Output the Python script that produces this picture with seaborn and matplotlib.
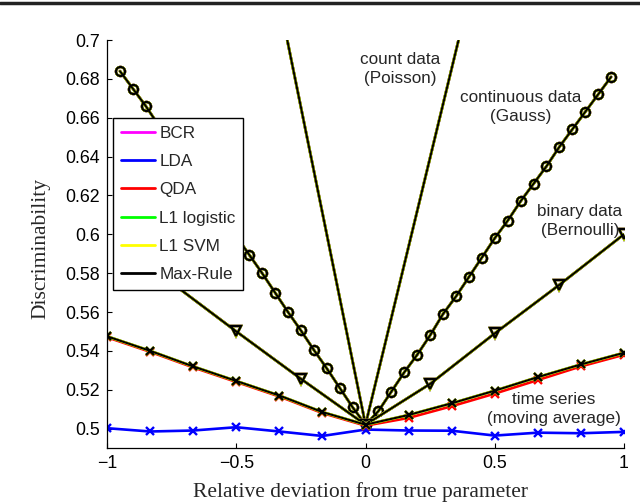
import matplotlib
matplotlib.use("Agg")
import matplotlib.pyplot as plt
from matplotlib.lines import Line2D
import seaborn as sns

# methods and their colours
methods = ["BCR", "LDA", "QDA", "L1 logistic", "L1 SVM", "Max-Rule"]
method_colors = ["#ff00ff", "#0000ff", "#ff0000", "#00ff00", "#ffff00", "#000000"]

# continuous data (Gauss)
gauss_x = [-0.95, -0.9, -0.85, -0.8, -0.75, -0.7, -0.65, -0.6, -0.55, -0.5,
           -0.45, -0.4, -0.35, -0.3, -0.25, -0.2, -0.15, -0.1, -0.05, 0.0,
           0.05, 0.1, 0.15, 0.2, 0.25, 0.3, 0.35, 0.4, 0.45, 0.5,
           0.55, 0.6, 0.65, 0.7, 0.75, 0.8, 0.85, 0.9, 0.95]
gauss_y = [0.684, 0.675, 0.666, 0.656, 0.647, 0.637, 0.628, 0.618, 0.609, 0.599,
           0.5895, 0.580, 0.570, 0.560, 0.5505, 0.5405, 0.531, 0.521, 0.511, 0.502,
           0.509, 0.519, 0.529, 0.538, 0.548, 0.559, 0.568, 0.578, 0.588, 0.598,
           0.607, 0.617, 0.626, 0.635, 0.645, 0.654, 0.663, 0.672, 0.681]

# count data (Poisson)
poisson_x = [-0.5, 0.0, 0.5]
poisson_y = [0.829, 0.502, 0.777]

# binary data (Bernoulli)
bern_x = [-0.75, -0.5, -0.25, 0.0, 0.25, 0.5, 0.75, 1.0]
bern_y = [0.575, 0.550, 0.5256, 0.502, 0.523, 0.549, 0.574, 0.600]

# time series (moving average)
ts_x = [-1.0, -0.833, -0.667, -0.5, -0.333, -0.167, 0.0,
        0.167, 0.333, 0.5, 0.667, 0.833, 1.0]
ts_y = [0.5475, 0.540, 0.532, 0.5245, 0.517, 0.5085, 0.502,
        0.507, 0.513, 0.5195, 0.5265, 0.533, 0.539]
ts_qda = [0.547, 0.5395, 0.5315, 0.524, 0.5165, 0.508, 0.5015,
          0.5055, 0.5115, 0.518, 0.525, 0.532, 0.538]
ts_lda = [0.5002, 0.4985, 0.499, 0.5007, 0.4985, 0.4962, 0.4995,
          0.499, 0.4989, 0.4964, 0.4979, 0.4976, 0.4983]

x_ticks = [-1, -0.5, 0, 0.5, 1]
x_ticklabels = ["\u22121", "\u22120.5", "0", "0.5", "1"]
y_ticks = [0.5, 0.52, 0.54, 0.56, 0.58, 0.6, 0.62, 0.64, 0.66, 0.68, 0.7]
y_ticklabels = ["0.5", "0.52", "0.54", "0.56", "0.58", "0.6", "0.62", "0.64", "0.66", "0.68", "0.7"]


def draw_group(ax, x, y_by_method, marker, ms):
    """Draw all methods for one data type; Max-Rule last, on top."""
    for name, col in zip(methods, method_colors):
        y = y_by_method.get(name, y_by_method["default"])
        top = name == "Max-Rule"
        sns.lineplot(x=x, y=y, color=col, ax=ax, legend=False,
                     linewidth=1.5 if top else 1.9,
                     marker=marker, markersize=ms,
                     markerfacecolor="none", markeredgecolor=col,
                     markeredgewidth=1.6 if top else 1.7)


sns.set_style("ticks")
plt.rcParams["font.family"] = ["Liberation Sans", "DejaVu Sans"]

fig = plt.figure(figsize=(6.4, 5.04), dpi=100)
ax = fig.add_axes([0.1672, 0.1111, 0.8078, 0.8095])

draw_group(ax, poisson_x, {"default": poisson_y}, None, 0)
draw_group(ax, gauss_x, {"default": gauss_y}, "o", 6.5)
draw_group(ax, bern_x, {"default": bern_y}, "v", 7)
draw_group(ax, ts_x, {"default": ts_y, "QDA": ts_qda, "LDA": ts_lda}, "x", 6)

ax.set_xlim(-1, 1)
ax.set_ylim(0.49, 0.7)
ax.set_xticks(x_ticks)
ax.set_xticklabels(x_ticklabels)
ax.set_yticks(y_ticks)
ax.set_yticklabels(y_ticklabels)
ax.tick_params(direction="in", length=3.6, width=0.8, labelsize=12.8, pad=5,
               colors="black")
for side in ["top", "right"]:
    ax.spines[side].set_visible(False)
for side in ["left", "bottom"]:
    ax.spines[side].set_color("black")
    ax.spines[side].set_linewidth(0.9)

ax.set_xlabel("Relative deviation from true parameter", family="Liberation Serif",
              fontsize=15.5)
ax.set_ylabel("Discriminability", family="Liberation Serif", fontsize=15.5)
ax.xaxis.set_label_coords(0.49, -0.083)
ax.yaxis.set_label_coords(-0.11, 0.49)

# annotations for the data types
txt = dict(ha="center", va="center", fontsize=12.3, linespacing=1.33)
ax.text(0.133, 0.6853, "count data\n(Poisson)", **txt)
ax.text(0.601, 0.6656, "continuous data\n(Gauss)", **txt)
ax.text(0.830, 0.607, "binary data\n(Bernoulli)", **txt)
ax.text(0.729, 0.5103, "time series\n(moving average)", **txt)

handles = [Line2D([0], [0], color=c, lw=2) for c in method_colors]
leg = ax.legend(handles, methods, loc="upper left", bbox_to_anchor=(0.0116, 0.809),
                fontsize=12.3, frameon=True, fancybox=False, framealpha=1,
                edgecolor="black", labelspacing=0.78, handlelength=2.0,
                handletextpad=0.25, borderpad=0.45, borderaxespad=0)
leg.get_frame().set_linewidth(1.0)

# thin border at the top of the picture
fig.add_artist(Line2D([0, 1], [0.994, 0.994], color="#222222", lw=2.5))

fig.savefig("out.png", dpi=100)
